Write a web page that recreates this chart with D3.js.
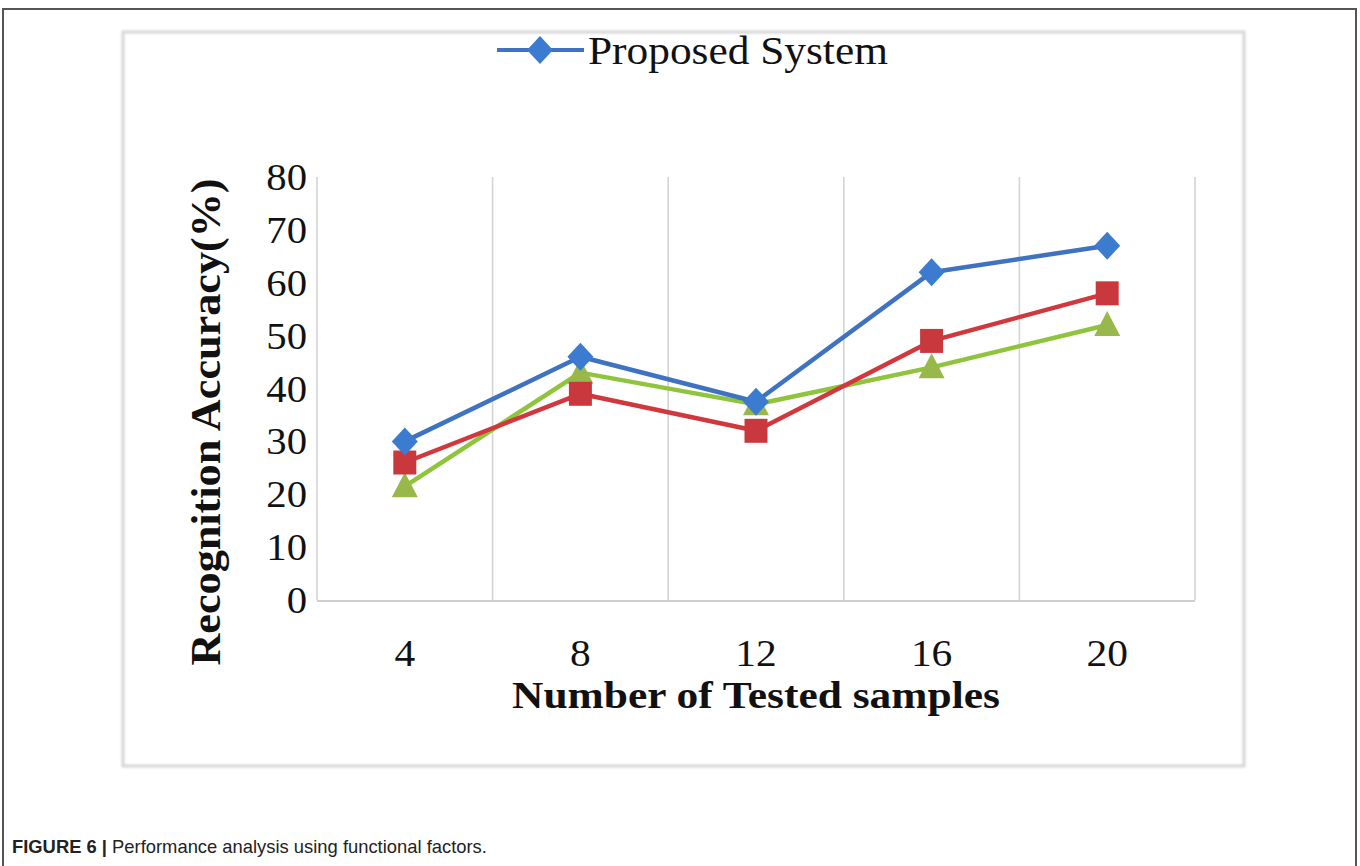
<!DOCTYPE html>
<html>
<head>
<meta charset="utf-8">
<script src="https://cdn.jsdelivr.net/npm/d3@7/dist/d3.min.js"></script>
<style>
  html, body { margin: 0; padding: 0; background: #fff; }
  svg { display: block; }
</style>
</head>
<body>
<svg id="chart" width="1360" height="866"></svg>
<script>
// ---- data ----
const categories = ["4", "8", "12", "16", "20"];
const seriesNames = ["Proposed System", "Series 2", "Series 3"];
const proposedSystem = [30, 46, 37.5, 62, 67];
const series2 = [26, 39, 32, 49, 58];
const series3 = [21.5, 43, 37, 44, 52];
const yTicks = [0, 10, 20, 30, 40, 50, 60, 70, 80];
const xTitle = "Number of Tested samples";
const yTitle = "Recognition Accuracy(%)";
const captionBold = "FIGURE 6 |";
const captionText = " Performance analysis using functional factors.";

const svg = d3.select("#chart");
const serif = "'Liberation Serif', 'DejaVu Serif', serif";
const sans = "'Liberation Sans Narrow', 'Liberation Sans', Arial, sans-serif";

// fit text horizontally to a target width
function fitX(sel, target, ax, ay) {
  const w = sel.node().getComputedTextLength();
  const s = target / w;
  sel.attr("transform", `translate(${ax},${ay}) scale(${s},1) translate(${-ax},${-ay})`);
}

// outer frame
svg.append("rect").attr("x", 3).attr("y", 9).attr("width", 1353).attr("height", 900)
  .attr("fill", "none").attr("stroke", "#555").attr("stroke-width", 2);

// inner chart box with soft shadow
const defs = svg.append("defs");
const f = defs.append("filter").attr("id", "blur").attr("x", "-5%").attr("y", "-5%").attr("width", "110%").attr("height", "110%");
f.append("feGaussianBlur").attr("stdDeviation", 1.2);
svg.append("rect").attr("x", 123).attr("y", 32).attr("width", 1121).attr("height", 734)
  .attr("fill", "none").attr("stroke", "#d6d6d6").attr("stroke-width", 3).attr("filter", "url(#blur)");

// scales
const x = d3.scaleBand().domain(categories).range([317, 1195]).padding(0);
const y = d3.scaleLinear().domain([0, 80]).range([600, 177]);

// vertical gridlines at category boundaries
const bounds = categories.map(c => x(c)).concat([x.range()[1]]);
svg.append("g").selectAll("line").data(bounds).join("line")
  .attr("x1", d => d).attr("x2", d => d).attr("y1", y(80)).attr("y2", y(0))
  .attr("stroke", "#d4d4d4").attr("stroke-width", 1.6);

// x axis line
svg.append("line").attr("x1", 317).attr("x2", 1195).attr("y1", y(0) + 1).attr("y2", y(0) + 1)
  .attr("stroke", "#cfcfcf").attr("stroke-width", 2);

// y tick labels
const yAxis = d3.axisLeft(y).tickValues(yTicks).tickSize(0).tickPadding(0);
const gy = svg.append("g").attr("transform", "translate(307,0)").call(yAxis);
gy.select(".domain").remove();
gy.selectAll(".tick text").attr("font-family", serif).attr("font-size", 37).attr("fill", "#111")
  .attr("x", 0).attr("dy", "0.34em")
  .attr("transform", "scale(1.1,1)");

// x tick labels
const xAxis = d3.axisBottom(x).tickSize(0).tickPadding(0);
const gx = svg.append("g").attr("transform", "translate(0,0)").call(xAxis);
gx.select(".domain").remove();
gx.selectAll(".tick text").attr("font-family", serif).attr("font-size", 37).attr("fill", "#111")
  .attr("dy", 0).attr("y", 666)
  .attr("transform", "scale(1.12,1)");

// axis titles
const xt = svg.append("text").attr("x", 756).attr("y", 708).attr("text-anchor", "middle")
  .attr("font-family", serif).attr("font-weight", "bold").attr("font-size", 38).attr("fill", "#111")
  .text(xTitle);
fitX(xt, 488, 756, 708);

svg.append("text")
  .attr("transform", "translate(220,422) rotate(-90) scale(1.3,1.25)")
  .attr("text-anchor", "middle")
  .attr("font-family", serif).attr("font-weight", "bold").attr("font-size", 34).attr("fill", "#111")
  .text(yTitle);

// series
const lineColors = ["#3f72c0", "#d1383e", "#8fc43c"];
const markFill = ["#3b7bd0", "#c9383d", "#98b84c"];
const allSeries = [proposedSystem, series2, series3];
const line = d3.line().x((d, i) => x(categories[i]) + x.bandwidth() / 2).y(d => y(d));

function marker(g, type, cx, cy, color) {
  if (type === 0) {
    g.append("path").attr("d", `M${cx},${cy - 14} L${cx + 13},${cy} L${cx},${cy + 14} L${cx - 13},${cy} Z`).attr("fill", color);
  } else if (type === 1) {
    g.append("rect").attr("x", cx - 11.5).attr("y", cy - 12).attr("width", 23).attr("height", 24).attr("fill", color);
  } else {
    g.append("path").attr("d", `M${cx},${cy - 14} L${cx + 13},${cy + 11} L${cx - 13},${cy + 11} Z`).attr("fill", color);
  }
}

[2, 1, 0].forEach(si => {
  const g = svg.append("g");
  g.append("path").datum(allSeries[si]).attr("d", line)
    .attr("fill", "none").attr("stroke", lineColors[si]).attr("stroke-width", 4.5)
    .attr("stroke-linejoin", "round");
  allSeries[si].forEach((v, i) => marker(g, si, x(categories[i]) + x.bandwidth() / 2, y(v), markFill[si]));
});

// legend (only first entry visible in the reference)
const lg = svg.append("g");
lg.append("line").attr("x1", 497).attr("x2", 584).attr("y1", 50).attr("y2", 50)
  .attr("stroke", lineColors[0]).attr("stroke-width", 4);
marker(lg, 0, 540, 50, markFill[0]);
const lt = lg.append("text").attr("x", 588).attr("y", 64)
  .attr("font-family", serif).attr("font-size", 40).attr("fill", "#111").text(seriesNames[0]);
fitX(lt, 300, 588, 64);

// caption
const cap = svg.append("text").attr("x", 12).attr("y", 853)
  .attr("font-family", sans).attr("font-size", 19).attr("fill", "#222");
cap.append("tspan").attr("font-weight", "bold").text(captionBold);
cap.append("tspan").text(captionText);
fitX(cap, 475, 12, 853);
</script>
</body>
</html>
